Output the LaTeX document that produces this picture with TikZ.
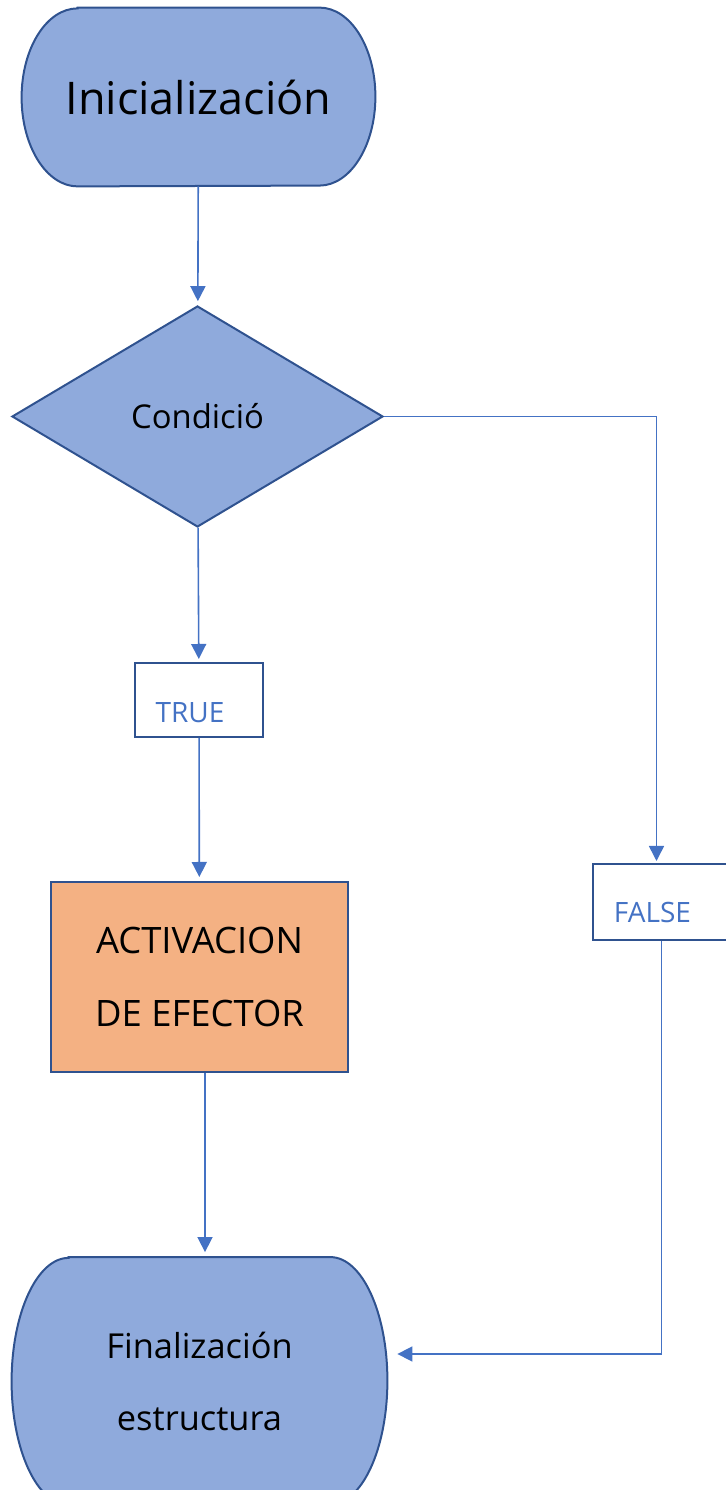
\documentclass[tikz,border=0pt]{standalone}
\usepackage{fontspec}
\setmainfont{Open Sans}
\usetikzlibrary{shapes.geometric,arrows.meta,backgrounds}
\definecolor{shapefill}{HTML}{8FAADC}
\definecolor{shapeline}{HTML}{2F528F}
\definecolor{linkblue}{HTML}{4472C4}
\definecolor{effector}{HTML}{F4B183}
\begin{document}
\begin{tikzpicture}[x=.5pt,y=.5pt,
    terminal/.style={fill=shapefill,draw=shapeline,line width=1pt},
    decision/.style={diamond,fill=shapefill,draw=shapeline,line width=1pt},
    tagbox/.style={rectangle,draw=shapeline,line width=1pt,text=linkblue,font=\fontsize{14}{17}\selectfont},
    actionbox/.style={rectangle,fill=effector,draw=shapeline,line width=1pt,align=center}]

      \useasboundingbox (0,0) rectangle (726,1490);

      \begin{scope}[every node/.style={inner sep=0pt}]
        \node (1) at (198.5,1393) [minimum width=176.5pt,minimum height=89pt,font=\fontsize{22.5}{27}\selectfont] {Inicialización};
        \node (2) at (197.5,1073.5) [decision,minimum width=185.5pt,minimum height=110.5pt,font=\fontsize{16.4}{20}\selectfont] {Condició};
        \node (3) at (199,790) [tagbox,minimum width=64pt,text height=30pt,text depth=7pt] {TRUE\hspace*{9pt}};
        \node (4) at (199.5,513) [actionbox,minimum width=148.5pt,minimum height=95pt,font=\fontsize{18.2}{36.5}\selectfont] {ACTIVACION\\DE EFECTOR};
        \node (5) at (661.5,588) [tagbox,minimum width=68.5pt,text height=29.5pt,text depth=8.5pt] {FALSE\hspace*{9pt}};
        \node (6) at (199.5,109) [minimum width=187.5pt,minimum height=123.5pt,align=center,font=\fontsize{17.2}{36}\selectfont] {Finalización\\estructura};
      \end{scope}

      \begin{scope}[on background layer]
        \path[terminal] ([xshift=28pt]1.north west) -- ([xshift=-28pt]1.north east)
          arc[start angle=90,end angle=-90,x radius=28pt,y radius=44.5pt]
          -- ([xshift=28pt]1.south west)
          arc[start angle=270,end angle=90,x radius=28pt,y radius=44.5pt] -- cycle;
        \path[terminal] ([xshift=28.5pt]6.north west) -- ([xshift=-28.5pt]6.north east)
          arc[start angle=90,end angle=-90,x radius=28.5pt,y radius=61.75pt]
          -- ([xshift=28.5pt]6.south west)
          arc[start angle=270,end angle=90,x radius=28.5pt,y radius=61.75pt] -- cycle;
      \end{scope}

      \begin{scope}[every edge/.style={draw=linkblue,line width=.8pt,-{Triangle[width=7.5pt,length=7.5pt]}}]
        \path (1) edge[shorten >=2pt] (2);
        \path (2) edge[shorten >=1.5pt] (3);
        \path (3) edge[shorten >=2pt] (4);
        \path ([xshift=2.75pt]4.south) edge[shorten >=2.5pt] ([xshift=2.75pt]6.north);
        \path (2.east) edge[to path={-| (\tikztotarget)},shorten >=1pt] ([xshift=-2.5pt]5.north);
        \path (5.south) edge[to path={|- (\tikztotarget)},shorten >=5pt] ([yshift=13.5pt]6.east);
      \end{scope}

    \end{tikzpicture}
\end{document}
